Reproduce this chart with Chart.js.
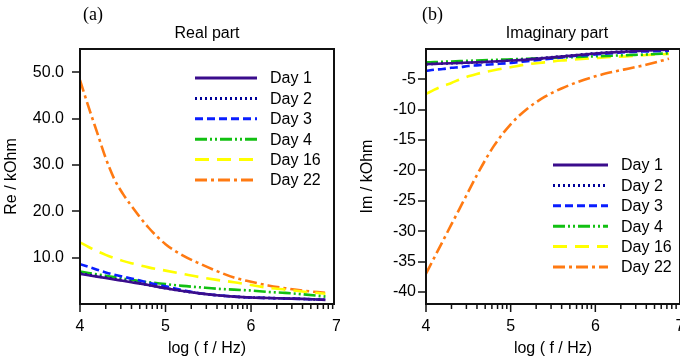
<!DOCTYPE html>
<html>
<head>
<meta charset="utf-8">
<script src="https://cdn.jsdelivr.net/npm/chart.js@4"></script>
<style>
  html, body { margin:0; padding:0; background:#fff; }
  #wrap { position:relative; width:680px; height:364px; }
  canvas { position:absolute; top:0; }
</style>
</head>
<body>
<div id="wrap">
  <canvas id="cRe" width="340" height="364" style="left:0"></canvas>
  <canvas id="cIm" width="340" height="364" style="left:340px"></canvas>
</div>
<script>
// ---- data (log f axis shared by all series) ----
const logF = [4.0,4.1,4.2,4.3,4.4,4.5,4.6,4.8,5.0,5.2,5.4,5.6,5.8,6.0,6.2,6.4,6.6,6.87];
const seriesNames = ['Day 1','Day 2','Day 3','Day 4','Day 16','Day 22'];

// Real part (kOhm)
const reDay1  = [6.5,6.2,5.9,5.6,5.3,5.0,4.7,4.1,3.4,2.8,2.3,1.9,1.6,1.4,1.3,1.2,1.1,0.9];
const reDay2  = [6.6,6.3,6.0,5.7,5.4,5.1,4.8,4.1,3.4,2.8,2.3,1.9,1.6,1.4,1.3,1.2,1.1,0.9];
const reDay3  = [8.6,8.0,7.4,6.8,6.3,5.9,5.5,4.6,3.8,3.0,2.3,1.9,1.6,1.4,1.3,1.2,1.1,0.9];
const reDay4  = [7.0,6.7,6.4,6.1,5.8,5.5,5.2,4.7,4.3,3.9,3.6,3.3,3.1,2.9,2.6,2.4,2.1,1.6];
const reDay16 = [13.3,12.3,11.4,10.6,9.9,9.3,8.8,7.9,7.2,6.5,5.8,5.2,4.7,4.1,3.5,3.1,2.7,2.2];
const reDay22 = [48.3,42.5,37.0,31.5,27.0,23.8,21.2,16.5,12.9,10.5,8.7,7.1,5.7,4.8,4.0,3.4,2.9,2.4];

// Imaginary part (kOhm)
const imDay1  = [-2.5,-2.45,-2.4,-2.35,-2.3,-2.25,-2.2,-2.05,-1.9,-1.75,-1.5,-1.25,-1.0,-0.75,-0.55,-0.4,-0.25,-0.1];
const imDay2  = [-2.5,-2.45,-2.4,-2.35,-2.3,-2.25,-2.2,-2.05,-1.9,-1.7,-1.45,-1.2,-0.95,-0.7,-0.5,-0.35,-0.2,-0.05];
const imDay3  = [-3.6,-3.4,-3.3,-3.1,-3.0,-2.8,-2.7,-2.5,-2.3,-2.0,-1.7,-1.4,-1.1,-0.9,-0.7,-0.5,-0.4,-0.3];
const imDay4  = [-2.2,-2.15,-2.1,-2.05,-2.0,-1.95,-1.9,-1.8,-1.7,-1.6,-1.5,-1.4,-1.3,-1.2,-1.1,-1.0,-0.9,-0.7];
const imDay16 = [-7.4,-6.7,-6.1,-5.6,-5.0,-4.5,-4.1,-3.5,-3.0,-2.5,-2.2,-1.9,-1.7,-1.5,-1.3,-1.2,-1.0,-0.8];
const imDay22 = [-37.0,-34.3,-31.6,-28.9,-26.2,-23.5,-20.8,-16.0,-12.4,-9.8,-7.9,-6.5,-5.4,-4.5,-3.8,-3.2,-2.6,-1.6];

// tick labels
const xTickValues  = [4,5,6,7];
const reTickValues = [10,20,30,40,50];
const imTickValues = [-5,-10,-15,-20,-25,-30,-35,-40];

// ---- styles ----
const FONT = "'Liberation Sans', Arial, sans-serif";
const styles = [
  {color:'#3a0c8c', dash:[]},
  {color:'#000099', dash:[2,3]},
  {color:'#0a1eff', dash:[8,4]},
  {color:'#12c012', dash:[12,3,2,3,2,3]},
  {color:'#ffff00', dash:[14,8]},
  {color:'#ff7a12', dash:[12,4,3,4]}
];

function makeDatasets(list){
  return list.map((vals,i)=>({
    label: seriesNames[i],
    data: logF.map((x,j)=>({x:x, y:vals[j]})),
    borderColor: styles[i].color,
    backgroundColor: styles[i].color,
    borderDash: styles[i].dash,
    borderWidth: 2.6,
    pointRadius: 0,
    fill: false,
    cubicInterpolationMode: 'monotone'
  }));
}

const decor = {
  id:'decor',
  afterDraw(chart, args, o){
    const {ctx, chartArea:a, scales:{x, y}} = chart;
    ctx.save();
    ctx.strokeStyle = '#111';
    ctx.lineWidth = 2;
    ctx.setLineDash([]);
    ctx.strokeRect(a.left, a.top, a.right-a.left, a.bottom-a.top);
    ctx.lineWidth = 1.5;
    const seg=(x1,y1,x2,y2)=>{ctx.beginPath();ctx.moveTo(x1,y1);ctx.lineTo(x2,y2);ctx.stroke();};
    y.ticks.forEach(t=>{ const py=Math.round(y.getPixelForValue(t.value)); seg(a.left-8,py,a.left,py); });
    for(let d=4; d<7; d++){
      const px = x.getPixelForValue(d);
      seg(px, a.bottom, px, a.bottom+8);
      for(let k=2;k<=9;k++){
        const v = d + Math.log10(k);
        if(v > x.max) break;
        const mx = x.getPixelForValue(v);
        seg(mx, a.bottom, mx, a.bottom+5);
      }
    }
    // panel tag and heading
    ctx.fillStyle = '#000';
    ctx.textBaseline = 'middle';
    ctx.font = "18px 'Liberation Serif', 'Times New Roman', serif";
    ctx.textAlign = 'left';
    ctx.fillText(o.tag, a.left + o.tagDx, 15);
    ctx.font = '16px ' + FONT;
    ctx.textAlign = 'center';
    ctx.fillText(o.heading, (a.left + a.right)/2 + o.headDx, 34);
    // legend
    ctx.textAlign = 'left';
    chart.data.datasets.forEach((ds,i)=>{
      const ly = a.top + o.legDy + i*20.4;
      const lx = a.left + o.legDx;
      ctx.strokeStyle = ds.borderColor;
      ctx.lineWidth = 3;
      ctx.setLineDash(ds.borderDash);
      seg(lx, ly, lx + o.legLen, ly);
      ctx.setLineDash([]);
      ctx.fillStyle = '#000';
      ctx.fillText(ds.label, lx + o.legLen + 13, ly + 1);
    });
    ctx.restore();
  }
};

function makeChart(id, datasets, cfg){
  return new Chart(document.getElementById(id), {
    type:'line',
    data:{ datasets },
    plugins:[decor],
    options:{
      responsive:false,
      devicePixelRatio:1,
      animation:false,
      layout:{ padding: cfg.padding },
      plugins:{ legend:{display:false}, tooltip:{enabled:false}, title:{display:false}, decor: cfg.decor },
      scales:{
        x:{
          type:'linear', min:4, max:cfg.xMax,
          afterBuildTicks: s => { s.ticks = xTickValues.map(v=>({value:v})); },
          afterFit: s => { s.height = 60; s.paddingLeft = 0; s.paddingRight = 0; },
          grid:{display:false, drawTicks:false},
          border:{display:false},
          ticks:{ autoSkip:false, maxRotation:0, padding:13, color:'#000', font:{family:FONT, size:16},
                  callback: v => String(v) },
          title:{ display:true, text:'log ( f / Hz)', color:'#000', font:{family:FONT, size:16}, padding:{top:0, bottom:6} }
        },
        y:{
          type:'linear', min:cfg.yMin, max:cfg.yMax,
          afterBuildTicks: s => { s.ticks = cfg.yTicks.map(v=>({value:v})); },
          afterFit: s => { s.width = cfg.yWidth; s.paddingTop = 0; s.paddingBottom = 0; },
          grid:{display:false, drawTicks:false},
          border:{display:false},
          ticks:{ autoSkip:false, padding:cfg.yPad, color:'#000', font:{family:FONT, size:16}, callback: cfg.yFmt },
          title:{ display:true, text:cfg.yTitle, color:'#000', font:{family:FONT, size:16}, padding:{top:cfg.yTitlePad, bottom:0} }
        }
      }
    }
  });
}

makeChart('cRe', makeDatasets([reDay1,reDay2,reDay3,reDay4,reDay16,reDay22]), {
  padding:{top:49, right:6, bottom:0, left:0},
  xMax:6.97, yMin:0, yMax:55, yTicks:reTickValues, yWidth:80, yPad:16,
  yFmt: v => Number(v).toFixed(1),
  yTitle:'Re / kOhm', yTitlePad:2,
  decor:{tag:'(a)', tagDx:3, heading:'Real part', headDx:0, legDx:115, legDy:29, legLen:62}
});

makeChart('cIm', makeDatasets([imDay1,imDay2,imDay3,imDay4,imDay16,imDay22]), {
  padding:{top:49, right:0, bottom:0, left:0},
  xMax:7.0, yMin:-42, yMax:0, yTicks:imTickValues, yWidth:86, yPad:10,
  yFmt: v => String(v),
  yTitle:'Im / kOhm', yTitlePad:18,
  decor:{tag:'(b)', tagDx:-4, heading:'Imaginary part', headDx:4, legDx:127, legDy:116, legLen:55}
});
</script>
</body>
</html>
